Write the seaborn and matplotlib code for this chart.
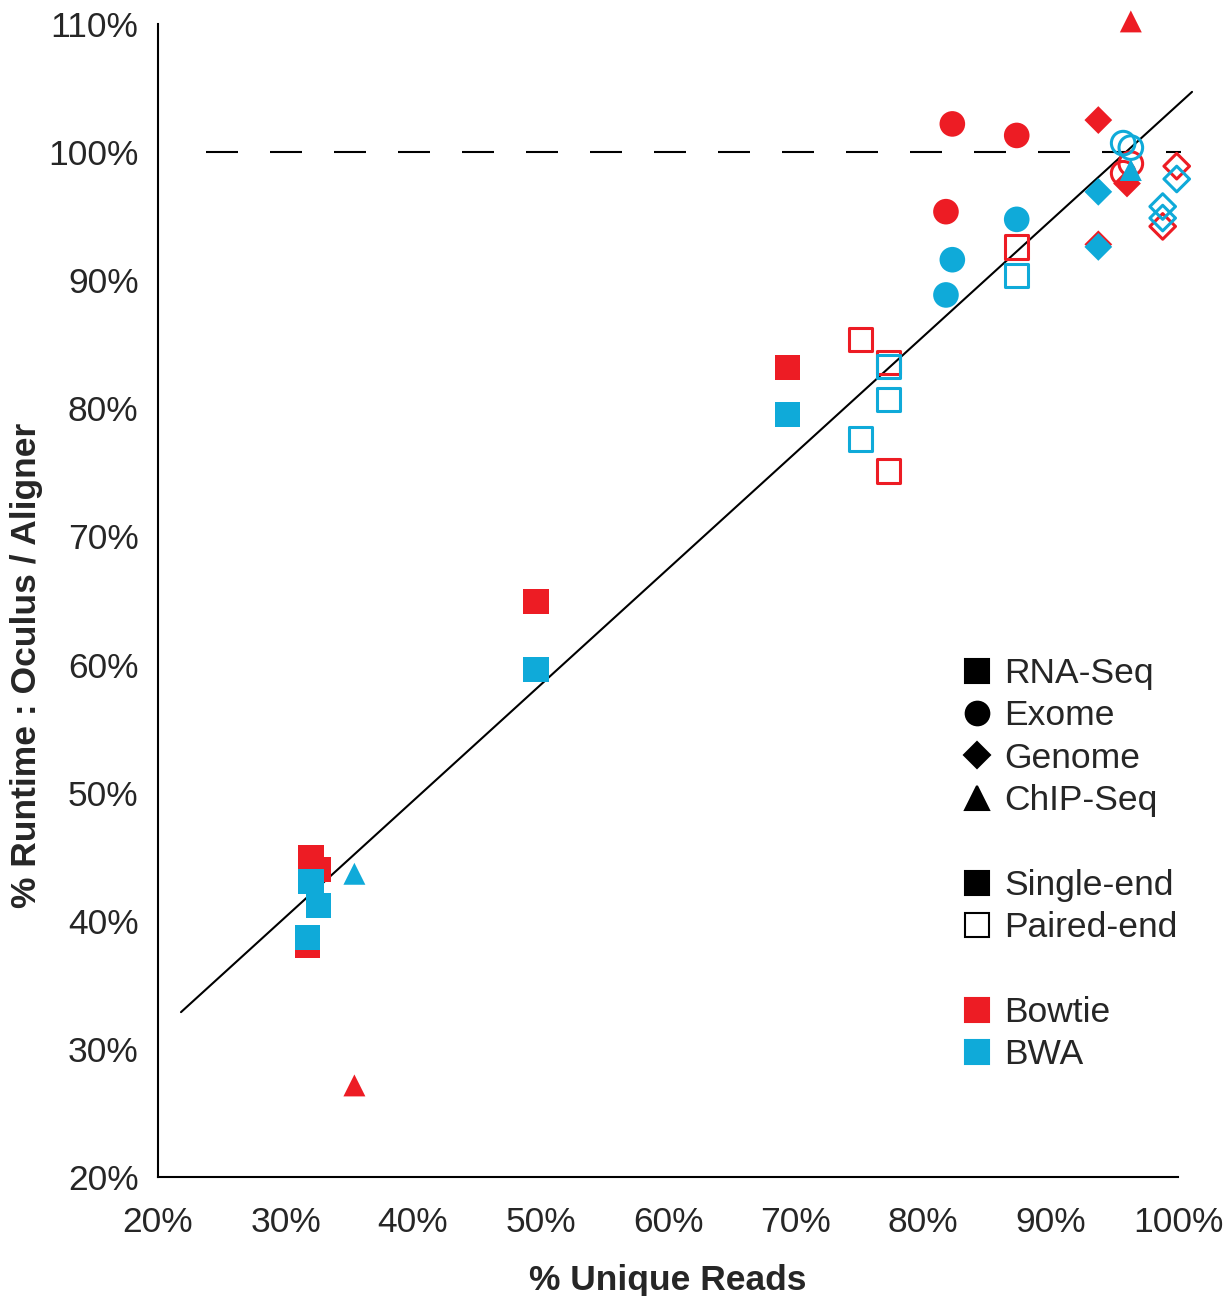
import seaborn as sns
import matplotlib.pyplot as plt
from matplotlib.lines import Line2D
import pandas as pd
import numpy as np

# colours
red = '#ED1C24'
blue = '#0FAAD9'

# Bowtie (rot)
bt_rna_se_x = [32.0, 32.6, 31.7, 49.65, 69.4]
bt_rna_se_y = [44.95, 44.0, 38.1, 64.9, 83.2]
bt_rna_pe_x = [75.1, 77.3, 77.3, 87.35]
bt_rna_pe_y = [85.4, 83.6, 75.1, 92.6]
bt_exo_se_x = [82.3, 87.35, 81.8]
bt_exo_se_y = [102.2, 101.3, 95.35]
bt_exo_pe_x = [96.3, 95.7]
bt_exo_pe_y = [99.1, 98.35]
bt_gen_se_x = [93.75, 96.0, 93.75]
bt_gen_se_y = [102.5, 97.55, 92.8]
bt_gen_pe_x = [99.9, 98.8]
bt_gen_pe_y = [98.9, 94.2]
bt_chip_se_x = [96.3, 35.4]
bt_chip_se_y = [110.2, 27.15]

# BWA (blau)
bwa_rna_se_x = [32.0, 32.6, 31.7, 49.65, 69.4]
bwa_rna_se_y = [43.05, 41.2, 38.7, 59.6, 79.5]
bwa_rna_pe_x = [77.3, 77.3, 75.1, 87.35]
bwa_rna_pe_y = [83.25, 80.7, 77.6, 90.35]
bwa_exo_se_x = [87.35, 82.3, 81.8]
bwa_exo_se_y = [94.75, 91.6, 88.85]
bwa_exo_pe_x = [95.7, 96.3]
bwa_exo_pe_y = [100.7, 100.35]
bwa_gen_se_x = [93.75, 93.75]
bwa_gen_se_y = [96.9, 92.6]
bwa_gen_pe_x = [99.9, 98.8, 98.8]
bwa_gen_pe_y = [97.9, 95.75, 94.85]
bwa_chip_se_x = [96.3, 35.4]
bwa_chip_se_y = [98.6, 43.67]

# Trendlinie und 100%-Linie
fit_x = [21.8, 101.1]
fit_y = [32.87, 104.7]
ref_x = [23.8, 100.2]
ref_y = [100, 100]

xticks = [20, 30, 40, 50, 60, 70, 80, 90, 100]
yticks = [20, 30, 40, 50, 60, 70, 80, 90, 100, 110]

groups = [
    ('Bowtie', 'RNA-Seq', 'Single-end', bt_rna_se_x, bt_rna_se_y),
    ('Bowtie', 'RNA-Seq', 'Paired-end', bt_rna_pe_x, bt_rna_pe_y),
    ('Bowtie', 'Exome', 'Single-end', bt_exo_se_x, bt_exo_se_y),
    ('Bowtie', 'Exome', 'Paired-end', bt_exo_pe_x, bt_exo_pe_y),
    ('Bowtie', 'Genome', 'Single-end', bt_gen_se_x, bt_gen_se_y),
    ('Bowtie', 'Genome', 'Paired-end', bt_gen_pe_x, bt_gen_pe_y),
    ('Bowtie', 'ChIP-Seq', 'Single-end', bt_chip_se_x, bt_chip_se_y),
    ('BWA', 'RNA-Seq', 'Single-end', bwa_rna_se_x, bwa_rna_se_y),
    ('BWA', 'RNA-Seq', 'Paired-end', bwa_rna_pe_x, bwa_rna_pe_y),
    ('BWA', 'Exome', 'Single-end', bwa_exo_se_x, bwa_exo_se_y),
    ('BWA', 'Exome', 'Paired-end', bwa_exo_pe_x, bwa_exo_pe_y),
    ('BWA', 'Genome', 'Single-end', bwa_gen_se_x, bwa_gen_se_y),
    ('BWA', 'Genome', 'Paired-end', bwa_gen_pe_x, bwa_gen_pe_y),
    ('BWA', 'ChIP-Seq', 'Single-end', bwa_chip_se_x, bwa_chip_se_y),
]

rows = []
for aligner, typ, end, xs, ys in groups:
    for x, y in zip(xs, ys):
        rows.append({'Aligner': aligner, 'Type': typ, 'End': end, 'x': x, 'y': y})
df = pd.DataFrame(rows)

sns.set_style('white')
plt.rcParams['font.family'] = ['Liberation Sans', 'DejaVu Sans']

markers = {'RNA-Seq': 's', 'Exome': 'o', 'Genome': 'D', 'ChIP-Seq': '^'}
sizes = {'RNA-Seq': 330, 'Exome': 340, 'Genome': 200, 'ChIP-Seq': 250}
colors = {'Bowtie': red, 'BWA': blue}
fs = 25.5

fig = plt.figure(figsize=(12.29, 12.96), dpi=100)
ax = fig.add_axes([0.1286, 0.0918, 0.8299, 0.8897])

# Referenzlinien
ax.plot(ref_x, ref_y, color='black', lw=1.5, linestyle=(0, (15.36, 15.36)), zorder=1,
        clip_on=False)
sns.lineplot(x=fit_x, y=fit_y, color='black', lw=1.5, ax=ax, zorder=2)
ax.lines[-1].set_clip_on(False)

for (aligner, typ, end), sub in df.groupby(['Aligner', 'Type', 'End'], sort=False):
    c = colors[aligner]
    if end == 'Single-end':
        sns.scatterplot(x='x', y='y', data=sub, marker=markers[typ], s=sizes[typ],
                        color=c, edgecolor='none', linewidth=0, ax=ax, zorder=3,
                        clip_on=False)
    else:
        sns.scatterplot(x='x', y='y', data=sub, marker=markers[typ], s=sizes[typ] * 0.85,
                        facecolor='none', edgecolor=c, linewidth=2.2, ax=ax, zorder=3,
                        clip_on=False)

ax.set_xlim(20, 100)
ax.set_ylim(20, 110)
ax.set_xticks(xticks)
ax.set_yticks(yticks)
ax.set_xticklabels([f'{t}%' for t in xticks], fontsize=fs)
ax.set_yticklabels([f'{t}%' for t in yticks], fontsize=fs)
ax.tick_params(axis='both', direction='out', length=8, width=1.5, color='black', pad=6)
ax.tick_params(axis='x', pad=13)
for s in ['top', 'right']:
    ax.spines[s].set_visible(False)
for s in ['left', 'bottom']:
    ax.spines[s].set_color('black')
    ax.spines[s].set_linewidth(1.5)

ax.set_xlabel('% Unique Reads', fontsize=fs, fontweight='bold', labelpad=18)
ax.set_ylabel('% Runtime : Oculus / Aligner', fontsize=fs, fontweight='bold')
ax.yaxis.set_label_coords(-0.113, 0.444)

# Legende
def h(m, fc='black', ec='black', ms=17):
    return Line2D([], [], marker=m, linestyle='none', markerfacecolor=fc,
                  markeredgecolor=ec, markersize=ms, markeredgewidth=1.5)

blank = Line2D([], [], linestyle='none')
handles = [h('s'), h('o'), h('D', ms=13), h('^'), blank,
           h('s'), h('s', fc='white'), blank,
           h('s', fc=red, ec=red), h('s', fc=blue, ec=blue)]
labels = ['RNA-Seq', 'Exome', 'Genome', 'ChIP-Seq', '',
          'Single-end', 'Paired-end', '', 'Bowtie', 'BWA']
ax.legend(handles, labels, loc='upper left', bbox_to_anchor=(0.786, 0.451),
          frameon=False, fontsize=fs, handlelength=1.0, handletextpad=0.25,
          labelspacing=0.265, borderpad=0, borderaxespad=0)

plt.savefig('out.png', dpi=100)
